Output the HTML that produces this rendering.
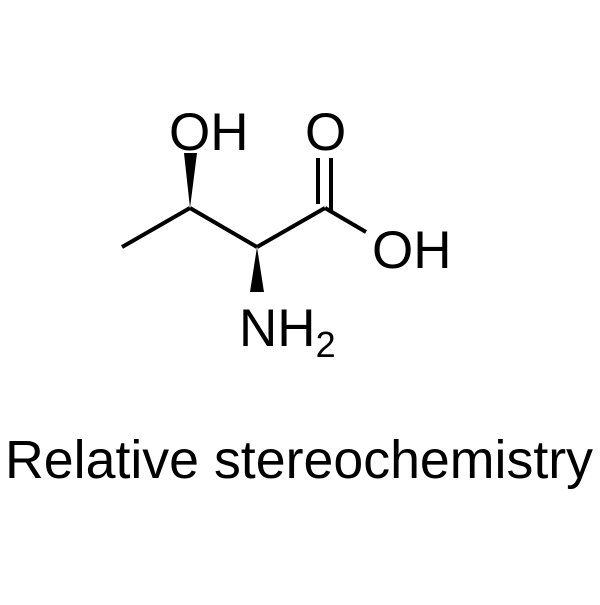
<!DOCTYPE html>
<html><head><meta charset="utf-8"><style>html,body{margin:0;padding:0;background:#fff}</style></head>
<body>
<svg width="600" height="600" viewBox="0 0 600 600" xmlns="http://www.w3.org/2000/svg">
<rect width="600" height="600" fill="#fff"/>
<g stroke="#000" stroke-width="4" fill="none" stroke-linecap="butt">
<line x1="122" y1="247" x2="190" y2="208"/>
<line x1="190" y1="208" x2="257" y2="247"/>
<line x1="257" y1="247" x2="325" y2="208"/>
<line x1="325" y1="208" x2="366" y2="232"/>
<line x1="318" y1="204" x2="318" y2="158"/>
<line x1="331" y1="211" x2="331" y2="158"/>
</g>
<polygon points="190,208 184,153 197,153" fill="#000"/>
<polygon points="257,247 250,292 264,292" fill="#000"/>
<g font-family="Liberation Sans, sans-serif" font-size="53" fill="#000">
<text x="169" y="150">OH</text>
<text x="305" y="150">O</text>
<text x="372" y="268">OH</text>
<text x="239" y="346">NH<tspan font-size="36" dy="11">2</tspan></text>
<text x="5" y="478" font-size="54" textLength="588" lengthAdjust="spacingAndGlyphs">Relative stereochemistry</text>
</g>
</svg>
</body></html>
